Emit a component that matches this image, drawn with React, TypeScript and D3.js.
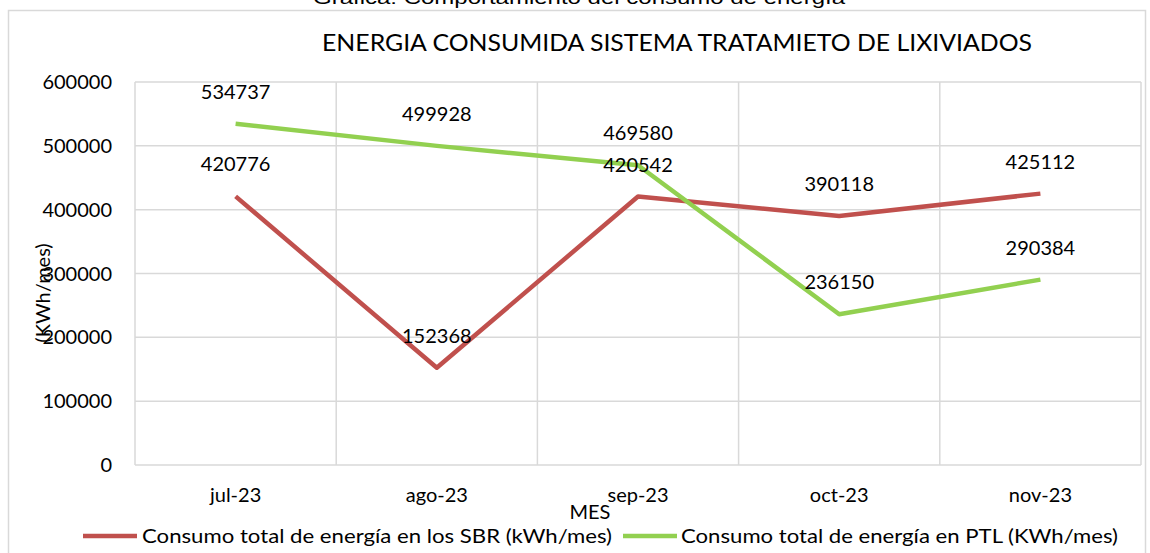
import React from "react";
import * as d3 from "d3";

const months = ["jul-23", "ago-23", "sep-23", "oct-23", "nov-23"];
const sbrValues = [420776, 152368, 420542, 390118, 425112];
const ptlValues = [534737, 499928, 469580, 236150, 290384];
const yTicks = [0, 100000, 200000, 300000, 400000, 500000, 600000];
const seriesNames = [
  "Consumo total de energía en los SBR (kWh/mes)",
  "Consumo total de energía en PTL (KWh/mes)",
];
const colors = ["#c0504d", "#92d050"];

const W = 1150;
const H = 553;
const FONT = "Lato, 'Open Sans', sans-serif";

export default function App() {
  const left = 135;
  const right = 1141;
  const top = 82;
  const bottom = 465;
  const x = d3.scaleBand<string>().domain(months).range([left, right]).padding(0);
  const y = d3.scaleLinear().domain([0, 600000]).range([bottom, top]);
  const cx = (m: string) => (x(m) as number) + x.bandwidth() / 2;

  const line = d3
    .line<number>()
    .x((_, i) => cx(months[i]))
    .y((d) => y(d));

  const series = [sbrValues, ptlValues];

  const boundaries = months.map((m) => x(m) as number).concat([right]);

  return (
    <svg
      width={W}
      height={H}
      style={{ position: "absolute", left: 0, top: 0, background: "#fff" }}
    >
      <text
        x={579}
        y={4}
        textAnchor="middle"
        fontFamily="'Liberation Sans', Arial, sans-serif"
        fontSize={19}
        textLength={532}
        lengthAdjust="spacingAndGlyphs"
        fill="#000"
      >
        Gráfica: Comportamiento del consumo de energía
      </text>
      <rect x={8.5} y={10.5} width={1137} height={560} fill="none" stroke="#d9d9d9" strokeWidth={1.5} />
      <text
        x={677}
        y={51}
        textAnchor="middle"
        fontFamily={FONT}
        fontSize={24}
        textLength={710}
        lengthAdjust="spacingAndGlyphs"
        fill="#000"
      >
        ENERGIA CONSUMIDA SISTEMA TRATAMIETO DE LIXIVIADOS
      </text>

      {yTicks.map((t) => (
        <g key={t}>
          <line x1={left} x2={right} y1={y(t)} y2={y(t)} stroke="#d9d9d9" strokeWidth={1.5} />
          <text
            x={112}
            y={y(t)}
            dy="0.35em"
            textAnchor="end"
            fontFamily={FONT}
            fontSize={20}
            fill="#000"
          >
            {t}
          </text>
        </g>
      ))}
      {boundaries.map((b, i) => (
        <line key={i} x1={b} x2={b} y1={top} y2={bottom} stroke="#d9d9d9" strokeWidth={1.5} />
      ))}

      {series.map((s, i) => (
        <path
          key={i}
          d={line(s) as string}
          fill="none"
          stroke={colors[i]}
          strokeWidth={4.5}
          strokeLinejoin="round"
        />
      ))}

      {series.map((s, i) =>
        s.map((v, j) => (
          <text
            key={`${i}-${j}`}
            x={cx(months[j])}
            y={y(v) - 32}
            dy="0.35em"
            textAnchor="middle"
            fontFamily={FONT}
            fontSize={20}
            fill="#000"
          >
            {v}
          </text>
        ))
      )}

      {months.map((m) => (
        <text
          key={m}
          x={cx(m)}
          y={495}
          dy="0.35em"
          textAnchor="middle"
          fontFamily={FONT}
          fontSize={20}
          fill="#000"
        >
          {m}
        </text>
      ))}
      <text x={590} y={512} dy="0.35em" textAnchor="middle" fontFamily={FONT} fontSize={20} fill="#000">
        MES
      </text>
      <text
        transform={`translate(43,293) rotate(-90)`}
        dy="0.35em"
        textAnchor="middle"
        fontFamily={FONT}
        fontSize={20}
        fill="#000"
      >
        (KWh/mes)
      </text>

      {/* legend */}
      {[
        { x0: 83, tx: 142, tl: 470 },
        { x0: 623, tx: 681, tl: 437 },
      ].map((l, i) => (
        <g key={i}>
          <line x1={l.x0} x2={l.x0 + 54} y1={536} y2={536} stroke={colors[i]} strokeWidth={4.5} />
          <text
            x={l.tx}
            y={536}
            dy="0.35em"
            fontFamily={FONT}
            fontSize={20}
            textLength={l.tl}
            lengthAdjust="spacingAndGlyphs"
            fill="#000"
          >
            {seriesNames[i]}
          </text>
        </g>
      ))}
    </svg>
  );
}
